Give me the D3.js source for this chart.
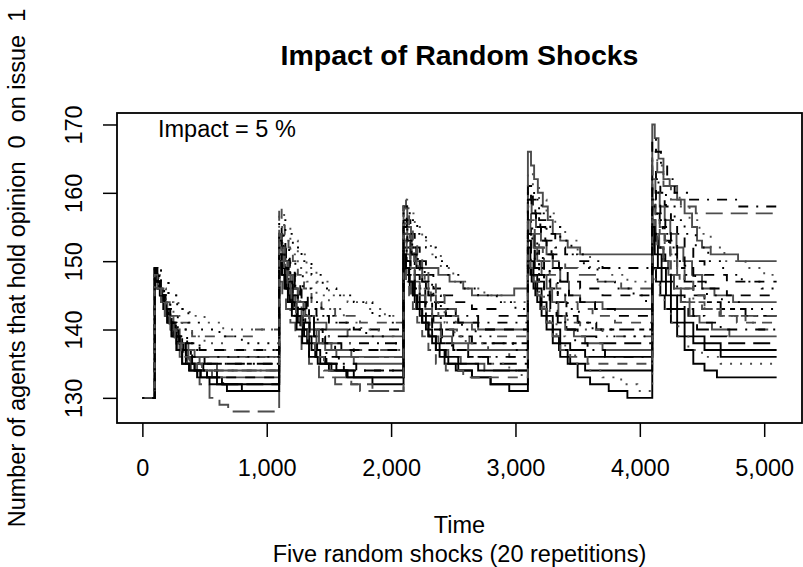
<!DOCTYPE html>
<html>
<head>
<meta charset="utf-8">
<script src="https://cdn.jsdelivr.net/npm/d3@7"></script>
<style>
  body { margin: 0; background: #fff; }
  text { font-family: "Liberation Sans", Arial, Helvetica, sans-serif; fill: #000; }
</style>
</head>
<body>
<div class="canvas"></div>
<script>

// 20 repetitions, step data: [time, agents holding opinion 0]
var run01 = [[0,130],[100,149],[120,147],[150,145],[185,143],[220,141],[260,139],[300,137],[350,135],[420,134],[520,133],[640,132],[800,131],
  [1100,150],[1125,148],[1160,146],[1195,144],[1240,142],[1290,140],[1340,138],[1400,136],[1470,135],[1560,134],[1700,133],[1850,132],
  [2100,150],[2120,148],[2150,146],[2190,144],[2230,142],[2280,140],[2330,138],[2390,136],[2460,135],[2540,134],[2650,133],[2800,132],[2950,131],
  [3100,149],[3130,147],[3160,145],[3200,143],[3250,141],[3300,139],[3350,137],[3420,135],[3500,133],[3600,132],[3750,131],[3900,130],
  [4100,149],[4130,147],[4165,145],[4200,143],[4250,141],[4300,139],[4360,137],[4430,135],[4520,134],[4620,133]];
var run02 = [[0,130],[100,148],[125,146],[160,144],[200,142],[250,140],[300,138],[370,136],[460,135],[600,134],
  [1100,152],[1130,150],[1165,148],[1205,146],[1250,144],[1310,142],[1380,141],[1480,140],[1650,139],
  [2100,158],[2130,155],[2160,152],[2200,150],[2240,149],[2380,148],[2470,147],[2580,146],[2650,145],[2990,146],
  [3100,166],[3125,164],[3150,162],[3180,160],[3220,158],[3260,156],[3300,154],[3360,153],[3420,152],[3520,151],
  [4100,170],[4120,168],[4150,165],[4190,162],[4240,161],[4300,159],[4360,157],[4420,155],[4460,153],[4500,152],[4570,151],[4790,150]];
var run03 = [[0,130],[100,149],[125,147],[155,145],[190,143],[235,141],[290,139],[360,138],[460,137],
  [1100,155],[1120,153],[1150,151],[1185,149],[1225,147],[1270,145],[1330,143],[1400,142],[1500,141],[1700,140],
  [2100,158],[2125,156],[2155,154],[2190,152],[2230,150],[2280,148],[2340,146],[2410,145],[2500,144],[2650,143],[2850,142],
  [3100,161],[3125,159],[3160,157],[3200,155],[3240,153],[3290,151],[3350,149],[3420,147],[3520,146],[3700,145],
  [4100,164],[4130,162],[4165,160],[4200,158],[4250,156],[4300,154],[4360,152],[4430,150],[4520,148],[4700,147]];
var run04 = [[0,130],[100,149],[150,147],[210,145],[290,143],[380,142],[500,141],[650,140],
  [1100,157],[1140,155],[1190,153],[1250,151],[1320,149],[1400,147],[1500,145],[1650,144],[1800,143],[1950,142],
  [2100,159],[2140,157],[2190,155],[2250,153],[2320,151],[2400,149],[2500,147],[2620,146],[2750,145],[2900,144],
  [3100,163],[3140,161],[3190,159],[3250,157],[3320,155],[3400,153],[3500,151],[3600,149],[3750,148],[3900,147],
  [4100,166],[4140,164],[4190,162],[4250,160],[4320,158],[4400,156],[4480,154],[4570,152],[4680,150],[4850,149],[5000,148]];
var run05 = [[0,130],[100,148],[120,146],[150,144],[185,142],[230,140],[280,138],[350,137],[450,136],
  [1100,154],[1125,152],[1155,150],[1190,148],[1230,146],[1280,144],[1340,142],[1410,140],[1500,139],[1650,138],
  [2100,156],[2125,154],[2155,152],[2190,150],[2230,148],[2280,146],[2340,144],[2420,143],[2520,142],[2700,141],
  [3100,160],[3140,158],[3190,156],[3250,154],[3320,152],[3400,151],[3500,150],[3700,149],
  [4100,168],[4130,166],[4170,164],[4220,162],[4280,160],[4380,159],[4800,158]];
var run06 = [[0,130],[100,148],[125,146],[155,144],[190,142],[230,140],[275,138],[330,136],[390,134],[460,132],[540,130],[620,129],[690,128],
  [1100,147],[1125,145],[1155,143],[1190,141],[1230,139],[1280,137],[1340,135],[1420,133],[1550,132],[1750,131],
  [2100,149],[2125,147],[2160,145],[2200,143],[2250,141],[2310,139],[2380,137],[2460,136],[2560,135],[2750,134],
  [3100,153],[3150,152],[3220,151],[3300,150],[3400,149],[3500,148],[3650,147],[3850,146],
  [4100,165],[4140,163],[4190,161],[4250,159],[4330,158],[4450,157]];
var run07 = [[0,130],[100,149],[120,147],[150,145],[185,143],[225,141],[270,139],[320,137],[390,136],[500,135],
  [1100,154],[1120,152],[1150,150],[1185,148],[1225,146],[1270,144],[1320,142],[1380,140],[1450,138],[1550,137],[1700,136],
  [2100,154],[2125,152],[2155,150],[2190,148],[2230,146],[2275,144],[2330,142],[2400,140],[2500,139],[2650,138],
  [3100,156],[3125,154],[3155,152],[3190,150],[3230,148],[3280,146],[3340,144],[3410,142],[3500,141],[3650,140],
  [4100,159],[4125,157],[4160,155],[4200,153],[4245,151],[4300,149],[4360,147],[4430,145],[4520,144],[4650,143],[4850,142]];
var run08 = [[0,130],[100,149],[120,147],[145,145],[175,143],[210,141],[250,139],[300,137],[360,135],[440,134],[560,133],
  [1100,151],[1125,149],[1155,147],[1190,145],[1230,143],[1280,141],[1340,139],[1420,138],[1520,137],[1680,136],
  [2100,155],[2130,153],[2165,151],[2205,149],[2250,147],[2300,145],[2360,143],[2440,142],[2540,141],[2700,140],
  [3100,159],[3130,157],[3165,155],[3205,153],[3250,151],[3300,149],[3360,147],[3430,145],[3520,144],[3700,143],
  [4100,162],[4125,160],[4160,158],[4200,156],[4245,154],[4295,152],[4350,150],[4420,148],[4500,146],[4600,145],[4750,144]];
var run09 = [[0,130],[100,148],[130,146],[170,144],[220,142],[290,141],[400,139],[890,140],
  [1100,158],[1120,156],[1145,154],[1175,152],[1210,150],[1250,148],[1300,146],[1360,144],[1440,143],[1550,142],[1750,141],
  [2100,159],[2120,157],[2145,155],[2175,153],[2210,151],[2250,149],[2300,147],[2360,145],[2430,143],[2520,141],[2650,140],[2850,139],
  [3100,158],[3125,156],[3155,154],[3190,152],[3230,150],[3275,148],[3330,146],[3400,144],[3500,143],[3620,142],[3800,141],
  [4100,159],[4125,157],[4160,155],[4200,153],[4245,151],[4300,149],[4360,147],[4430,145],[4520,143],[4640,142],[4780,141],[4950,140]];
var run10 = [[0,130],[100,149],[150,147],[210,145],[280,143],[370,141],[480,140],[620,139],[800,138],
  [1100,156],[1150,154],[1210,152],[1280,150],[1360,148],[1450,146],[1560,145],[1700,144],[1850,142],[2000,141],
  [2100,158],[2150,156],[2210,154],[2280,152],[2360,150],[2450,148],[2560,146],[2700,145],[2850,144],[3000,143],
  [3100,161],[3150,159],[3210,157],[3280,155],[3360,153],[3450,151],[3550,149],[3660,147],[3800,146],[3950,145],[4050,144],
  [4100,162],[4150,160],[4210,158],[4280,156],[4360,154],[4450,152],[4550,150],[4670,148],[4820,147],[4980,146]];
var run11 = [[0,130],[100,148],[120,146],[150,144],[180,142],[215,140],[255,138],[300,136],[370,135],[470,134],
  [1100,152],[1125,150],[1155,148],[1190,146],[1230,144],[1280,142],[1340,140],[1420,139],[1520,138],[1700,137],
  [2100,156],[2120,154],[2150,152],[2185,150],[2225,148],[2270,146],[2320,144],[2380,142],[2450,140],[2530,139],[2630,138],[2780,137],[2950,136],
  [3100,154],[3125,152],[3155,150],[3190,148],[3230,146],[3280,144],[3340,142],[3420,141],[3520,140],[3700,139],
  [4100,158],[4125,156],[4160,154],[4200,152],[4245,150],[4300,148],[4360,146],[4430,144],[4520,143],[4650,142],[4850,141]];
var run12 = [[0,130],[100,149],[118,147],[145,145],[175,143],[210,141],[250,139],[295,137],[350,135],[420,134],[520,133],[650,132],
  [1100,150],[1120,148],[1150,146],[1185,144],[1225,142],[1270,140],[1325,138],[1390,136],[1480,135],[1620,134],
  [2100,152],[2125,150],[2155,148],[2190,146],[2230,144],[2280,142],[2340,140],[2410,138],[2500,137],[2620,136],[2780,135],
  [3100,153],[3125,151],[3155,149],[3190,147],[3230,145],[3280,143],[3340,141],[3410,140],[3500,139],[3650,138],
  [4100,156],[4125,154],[4155,152],[4190,150],[4230,148],[4275,146],[4330,144],[4390,142],[4460,140],[4560,139],[4700,138]];
var run13 = [[0,130],[100,149],[115,147],[140,145],[170,143],[200,141],[235,139],[275,137],[320,135],[380,134],[470,133],[600,132],
  [1100,151],[1120,149],[1145,147],[1175,145],[1210,143],[1250,141],[1300,139],[1360,137],[1430,135],[1520,134],[1650,133],
  [2100,151],[2120,149],[2145,147],[2175,145],[2210,143],[2250,141],[2300,139],[2360,137],[2430,135],[2520,134],[2650,133],[2800,132],
  [3100,150],[3120,148],[3145,146],[3175,144],[3210,142],[3250,140],[3300,138],[3360,136],[3440,135],[3560,134],
  [4100,153],[4120,151],[4145,149],[4175,147],[4210,145],[4250,143],[4300,141],[4360,139],[4430,138],[4520,137],[4650,136]];
var run14 = [[0,130],[100,148],[120,146],[150,144],[185,142],[225,140],[270,138],[330,137],[420,136],
  [1100,154],[1120,152],[1145,150],[1175,148],[1210,146],[1250,144],[1295,142],[1345,140],[1400,138],[1470,137],[1560,136],[1700,135],
  [2100,153],[2125,151],[2155,149],[2190,147],[2230,145],[2275,143],[2330,141],[2400,139],[2490,138],[2620,137],
  [3100,156],[3120,154],[3145,152],[3175,150],[3210,148],[3250,146],[3295,144],[3345,142],[3400,140],[3470,139],[3560,138],[3700,137],
  [4100,156],[4125,154],[4155,152],[4190,150],[4230,148],[4275,146],[4330,144],[4400,142],[4480,141],[4580,140],[4720,139]];
var run15 = [[0,130],[100,149],[125,147],[155,145],[190,143],[230,141],[275,139],[330,137],[400,135],[490,134],[600,133],
  [1100,151],[1130,149],[1165,147],[1205,145],[1250,143],[1310,141],[1380,139],[1470,138],[1600,137],
  [2100,155],[2130,153],[2165,151],[2205,149],[2250,147],[2300,145],[2360,143],[2440,142],[2540,141],[2700,140],
  [3100,159],[3130,157],[3165,155],[3205,153],[3250,151],[3300,149],[3360,147],[3430,145],[3520,144],[3640,143],[3800,142],
  [4100,161],[4130,159],[4165,157],[4205,155],[4250,153],[4300,151],[4360,149],[4430,147],[4530,146],[4700,145]];
var run16 = [[0,130],[100,148],[140,146],[190,144],[250,142],[320,140],[400,139],[500,138],[650,137],
  [1100,155],[1140,153],[1190,151],[1250,149],[1320,147],[1400,145],[1500,143],[1620,141],[1760,140],[1900,139],[2020,138],
  [2100,155],[2130,153],[2165,151],[2205,149],[2250,147],[2300,145],[2360,143],[2430,141],[2510,139],[2600,137],[2700,136],[2820,135],[2950,134],[3050,133],
  [3100,151],[3125,149],[3155,147],[3190,145],[3230,143],[3275,141],[3330,139],[3400,137],[3480,135],[3580,134],[3700,133],[3850,132],[3980,131],
  [4100,149],[4125,147],[4160,145],[4200,143],[4250,141],[4310,139],[4390,137],[4500,136],[4650,135]];
var run17 = [[0,130],[100,149],[120,147],[148,145],[180,143],[215,141],[255,139],[300,137],[360,136],[450,135],
  [1100,153],[1120,151],[1145,149],[1175,147],[1210,145],[1250,143],[1295,141],[1345,139],[1405,137],[1480,136],[1580,135],[1720,134],
  [2100,152],[2125,150],[2155,148],[2190,146],[2230,144],[2275,142],[2330,140],[2400,138],[2490,137],[2620,136],
  [3100,154],[3125,152],[3155,150],[3190,148],[3230,146],[3275,144],[3330,142],[3400,140],[3480,138],[3580,137],[3720,136],
  [4100,155],[4130,153],[4165,151],[4205,149],[4250,147],[4300,145],[4360,143],[4430,142],[4520,141],[4650,140]];
var run18 = [[0,130],[100,149],[118,147],[142,145],[170,143],[200,141],[235,139],[275,137],[320,135],[375,134],[440,133],[540,132],[680,131],
  [1100,150],[1118,148],[1142,146],[1170,144],[1202,142],[1240,140],[1285,138],[1340,136],[1410,135],[1500,134],[1640,133],
  [2100,151],[2120,149],[2145,147],[2175,145],[2210,143],[2250,141],[2300,139],[2360,137],[2440,136],[2540,135],[2700,134],
  [3100,152],[3120,150],[3145,148],[3175,146],[3210,144],[3250,142],[3300,140],[3360,138],[3440,137],[3560,136],
  [4100,155],[4120,153],[4145,151],[4175,149],[4210,147],[4250,145],[4300,143],[4360,141],[4430,139],[4520,138],[4650,137]];
var run19 = [[0,130],[100,148],[122,146],[150,144],[182,142],[218,140],[260,138],[310,136],[380,135],[480,134],
  [1100,152],[1118,150],[1140,148],[1167,146],[1198,144],[1235,142],[1280,140],[1330,138],[1390,136],[1460,134],[1550,133],[1680,132],[1850,131],
  [2100,149],[2120,147],[2145,145],[2175,143],[2210,141],[2250,139],[2300,137],[2360,135],[2440,134],[2580,133],
  [3100,151],[3120,149],[3145,147],[3175,145],[3210,143],[3250,141],[3300,139],[3360,137],[3440,136],[3580,135],
  [4100,154],[4140,152],[4190,150],[4250,148],[4320,146],[4400,144],[4500,143],[4650,142]];
var run20 = [[0,130],[100,148],[135,146],[175,144],[225,142],[285,140],[360,138],[460,137],[600,136],
  [1100,154],[1135,152],[1180,150],[1230,148],[1290,146],[1360,144],[1440,142],[1540,141],[1660,140],[1800,139],[1950,138],
  [2100,155],[2130,153],[2170,151],[2215,149],[2270,147],[2330,145],[2400,143],[2480,141],[2570,140],[2680,139],[2820,138],[2980,137],
  [3100,155],[3135,153],[3175,151],[3220,149],[3275,147],[3340,145],[3420,143],[3510,141],[3620,140],[3780,139],
  [4100,158],[4140,156],[4185,154],[4235,152],[4295,150],[4365,148],[4445,146],[4540,145],[4660,144],[4820,143]];

var runs = [run01, run02, run03, run04, run05, run06, run07, run08, run09, run10,
            run11, run12, run13, run14, run15, run16, run17, run18, run19, run20];
var lineTypes = ['solid','solid','dashed','dotted','dotdash','longdash','twodash','solid','dashed','dotted',
                 'dotdash','longdash','solid','solid','dashed','dotted','dotdash','solid','dashed','dotted'];
var lineColors = ['black','gray','black','gray','black','gray','black','gray','gray','black',
                  'gray','black','black','gray','black','gray','black','black','gray','black'];
var endTime = 5100;
var xTicks = [0, 1000, 2000, 3000, 4000, 5000];
var yTicks = [130, 140, 150, 160, 170];

var dashes = { solid: null, dashed: '10,9', dotted: '2,8', dotdash: '2,8,10,8', longdash: '17,8', twodash: '5,5,15,5' };
var inks = { black: '#000', gray: '#4d4d4d' };

var canvasFrameWidth = 803;
var canvasFrameHeight = 567;
var plotLeft = 117, plotRight = 802, plotTop = 113, plotBottom = 423;

var canvas = d3.select('.canvas')
  .append('svg')
    .attr('width', canvasFrameWidth)
    .attr('height', canvasFrameHeight);

// R style axis range: data extent padded by 4% on each side
var allVals = d3.merge(runs).map(function(d){ return d[1]; });
var yMin = d3.min(allVals), yMax = d3.max(allVals);
var xPad = 0.04 * endTime, yPad = 0.04 * (yMax - yMin);

var x = d3.scaleLinear().domain([-xPad, endTime + xPad]).range([plotLeft, plotRight]);
var y = d3.scaleLinear().domain([yMin - yPad, yMax + yPad]).range([plotBottom, plotTop]);

var line = d3.line()
  .x(function(d){ return x(d[0]); })
  .y(function(d){ return y(d[1]); })
  .curve(d3.curveStepAfter);

canvas.append('g')
  .attr('class', 'runs')
  .selectAll('path')
  .data(runs)
  .enter()
  .append('path')
    .attr('d', function(d){ return line(d.concat([[endTime, d[d.length - 1][1]]])); })
    .attr('fill', 'none')
    .attr('stroke', function(d, i){ return inks[lineColors[i]]; })
    .attr('stroke-width', 1.9)
    .attr('stroke-dasharray', function(d, i){ return dashes[lineTypes[i]]; });

// box
canvas.append('rect')
  .attr('x', plotLeft).attr('y', plotTop)
  .attr('width', plotRight - plotLeft).attr('height', plotBottom - plotTop)
  .attr('fill', 'none').attr('stroke', '#000').attr('stroke-width', 1.8);

var xAxis = canvas.append('g')
  .attr('transform', 'translate(0,' + plotBottom + ')')
  .call(d3.axisBottom(x).tickValues(xTicks).tickFormat(d3.format(',')).tickSize(14));
xAxis.select('.domain').remove();
xAxis.selectAll('line').attr('stroke', '#000').attr('stroke-width', 1.5);
xAxis.selectAll('text')
  .attr('y', 53).attr('dy', null)
  .attr('font-size', '23.5px')
  .style('font-family', '"Liberation Sans", Arial, sans-serif');

var yAxis = canvas.append('g')
  .attr('transform', 'translate(' + plotLeft + ',0)')
  .call(d3.axisLeft(y).tickValues(yTicks).tickSize(14));
yAxis.select('.domain').remove();
yAxis.selectAll('line').attr('stroke', '#000').attr('stroke-width', 1.5);
yAxis.selectAll('text')
  .attr('x', null).attr('dy', null)
  .attr('text-anchor', 'middle')
  .attr('transform', 'translate(-35,0) rotate(-90)')
  .attr('font-size', '23.5px')
  .style('font-family', '"Liberation Sans", Arial, sans-serif');

canvas.append('text')
  .attr('x', (plotLeft + plotRight) / 2).attr('y', 65)
  .attr('text-anchor', 'middle')
  .attr('font-size', '28.5px').attr('font-weight', 'bold')
  .text('Impact of Random Shocks');

canvas.append('text')
  .attr('x', 158).attr('y', 137)
  .attr('font-size', '23.5px')
  .text('Impact = 5 %');

canvas.append('text')
  .attr('x', (plotLeft + plotRight) / 2).attr('y', 533)
  .attr('text-anchor', 'middle')
  .attr('font-size', '23.5px')
  .text('Time');

canvas.append('text')
  .attr('x', (plotLeft + plotRight) / 2).attr('y', 562)
  .attr('text-anchor', 'middle')
  .attr('font-size', '23.5px')
  .text('Five random shocks (20 repetitions)');

canvas.append('text')
  .attr('transform', 'translate(25,' + (plotTop + plotBottom) / 2 + ') rotate(-90)')
  .attr('text-anchor', 'middle')
  .attr('font-size', '23.5px')
  .style('white-space', 'pre')
  .text('Number of agents that hold opinion  0  on issue  1');

</script>
</body>
</html>
